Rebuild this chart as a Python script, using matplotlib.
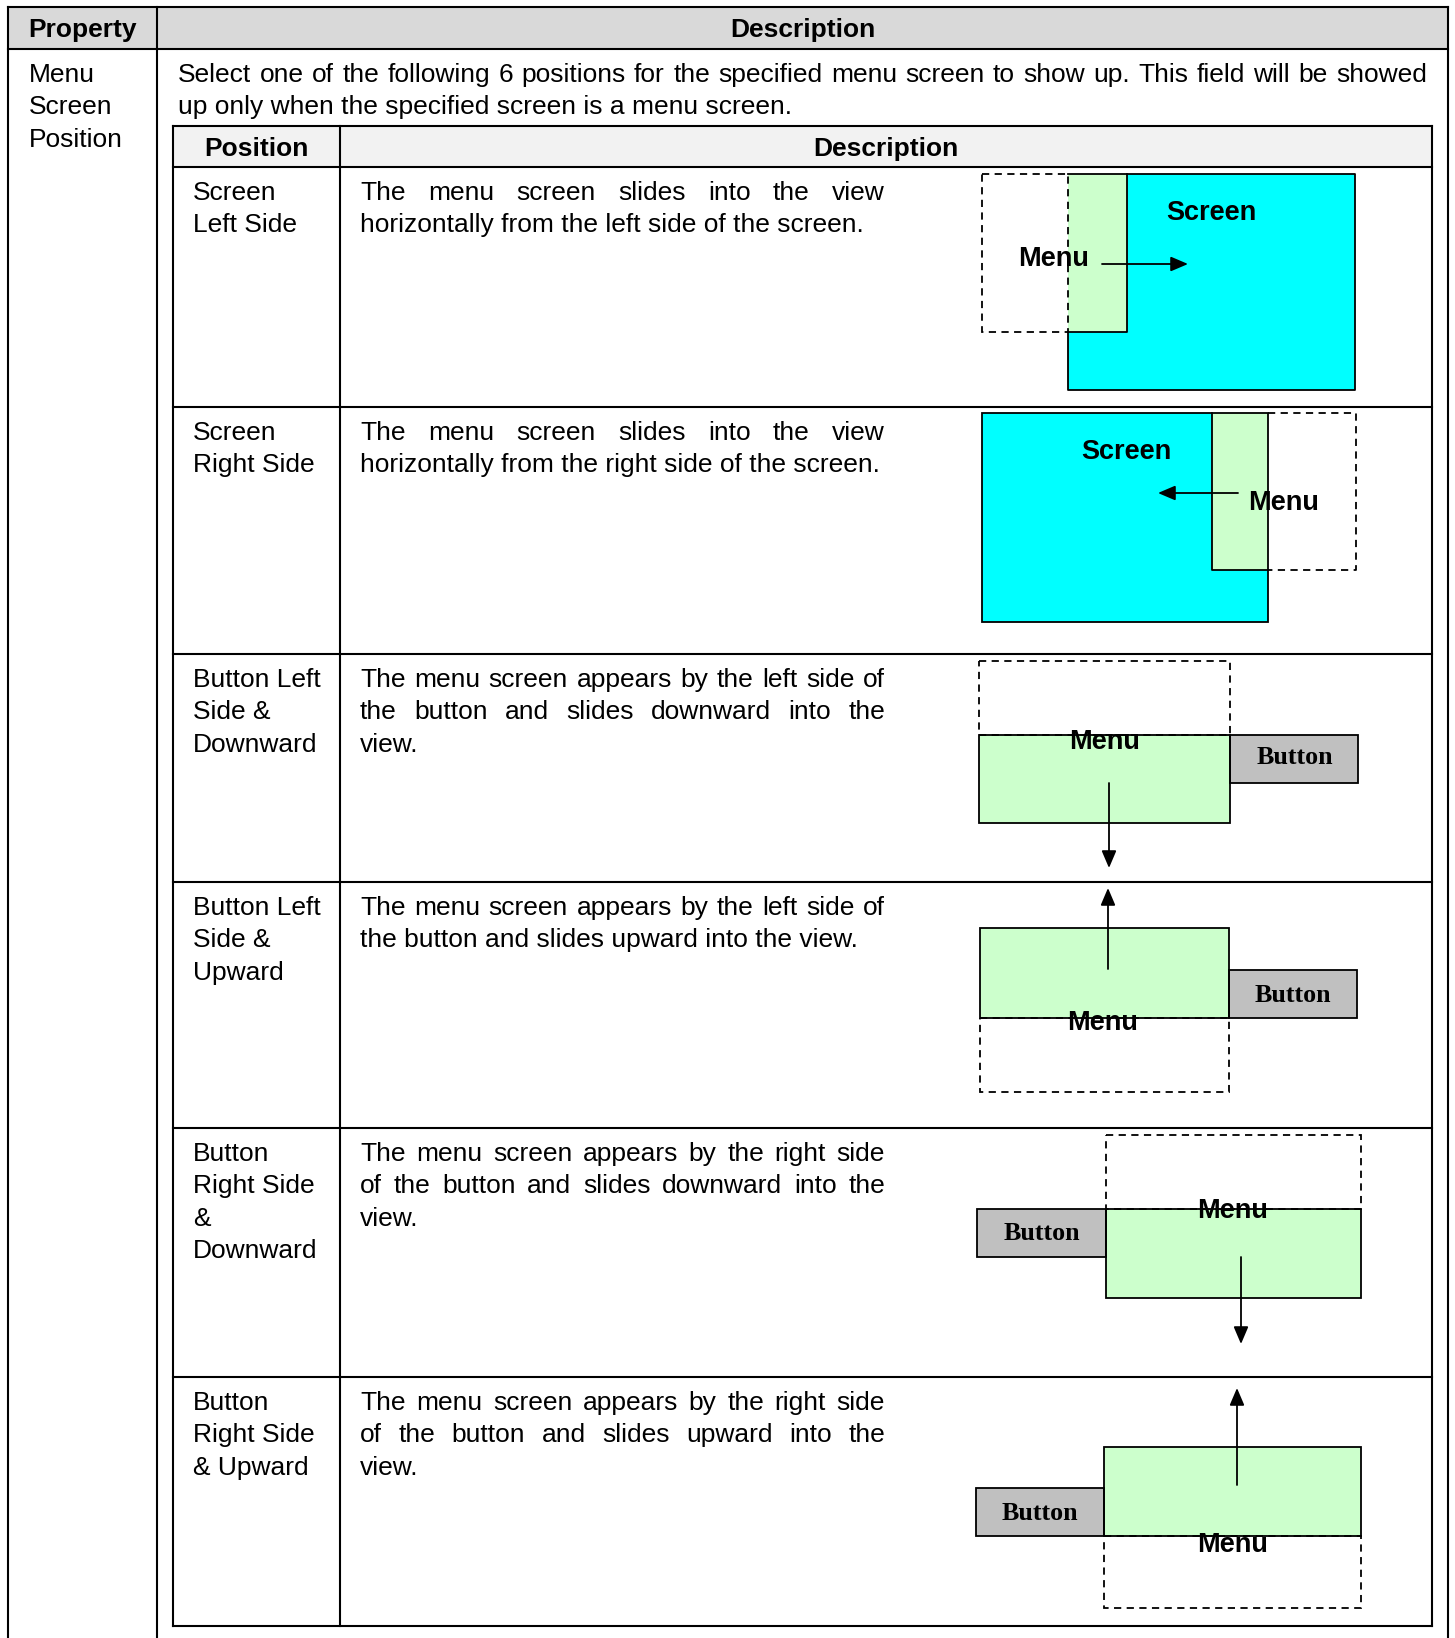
import matplotlib
matplotlib.use("Agg")
import matplotlib.pyplot as plt
from matplotlib.patches import Rectangle

W, H = 1455, 1638
DPI = 100

# ---- table content ----
header_cols = ["Property", "Description"]
property_lines = ["Menu", "Screen", "Position"]
intro_lines = ["Select one of the following 6 positions for the specified menu screen to show up. This field will be showed",
               "up only when the specified screen is a menu screen."]
sub_cols = ["Position", "Description"]
position_labels = [["Screen", "Left Side"],
                   ["Screen", "Right Side"],
                   ["Button Left", "Side &", "Downward"],
                   ["Button Left", "Side &", "Upward"],
                   ["Button", "Right Side", "&", "Downward"],
                   ["Button", "Right Side", "& Upward"]]
descriptions = [["The menu screen slides into the view", "horizontally from the left side of the screen."],
                ["The menu screen slides into the view", "horizontally from the right side of the screen."],
                ["The menu screen appears by the left side of", "the button and slides downward into the", "view."],
                ["The menu screen appears by the left side of", "the button and slides upward into the view."],
                ["The menu screen appears by the right side", "of the button and slides downward into the", "view."],
                ["The menu screen appears by the right side", "of the button and slides upward into the", "view."]]
diagram_labels = {"screen": "Screen", "menu": "Menu", "button": "Button"}

# ---- layout (pixels) ----
OX0, OX1, OCOL = 8, 1448, 157
OTOP, OHEAD = 7, 49
IX0, IX1, ICOL = 173, 1432, 340
ITOP, IHEAD = 126, 167
row_tops = [167, 407, 654, 882, 1128, 1377]
IBOT = 1626
LINE = 32.3
FS = 19
TLW = 1.5
DLW = 1.3

CYAN, GREEN, GREY = "#00FFFF", "#CCFFCC", "#C0C0C0"

plt.rcParams["font.family"] = ["Liberation Sans", "DejaVu Sans"]
fig = plt.figure(figsize=(W / DPI, H / DPI), dpi=DPI)
ax = fig.add_axes([0, 0, 1, 1])
ax.set_xlim(0, W)
ax.set_ylim(H, 0)
ax.axis("off")
renderer = fig.canvas.get_renderer()


def hline(x0, x1, y, lw=TLW, **kw):
    ax.plot([x0, x1], [y, y], color="black", lw=lw, solid_capstyle="projecting", **kw)


def vline(x, y0, y1, lw=TLW, **kw):
    ax.plot([x, x], [y0, y1], color="black", lw=lw, solid_capstyle="projecting", **kw)


def para(lines, x0, x1, base, justify=True, **kw):
    for i, line in enumerate(lines):
        y = base + i * LINE
        words = line.split()
        if justify and i < len(lines) - 1 and len(words) > 1:
            ts = [ax.text(0, y, w, fontsize=FS, va="baseline", ha="left", **kw) for w in words]
            ws = [t.get_window_extent(renderer).width for t in ts]
            gap = (x1 - x0 - sum(ws)) / (len(words) - 1)
            x = x0
            for t, w in zip(ts, ws):
                t.set_x(x)
                x += w + gap
        else:
            ax.text(x0, y, line, fontsize=FS, va="baseline", ha="left", **kw)


# ---- outer table ----
ax.add_patch(Rectangle((OX0, OTOP), OX1 - OX0, OHEAD - OTOP, color="#D9D9D9", lw=0))
hline(OX0, OX1, OTOP)
hline(OX0, OX1, OHEAD)
vline(OX0, OTOP, H + 5)
vline(OCOL, OTOP, H + 5)
vline(OX1, OTOP, H + 5)
ax.text((OX0 + OCOL) / 2, OTOP + 30, header_cols[0], fontsize=FS, weight="bold", ha="center", va="baseline")
ax.text((OCOL + OX1) / 2, OTOP + 30, header_cols[1], fontsize=FS, weight="bold", ha="center", va="baseline")
para(property_lines, 29, OCOL - 8, OHEAD + 33, justify=False)
para(intro_lines, 178, 1427, OHEAD + 33)

# ---- inner table ----
ax.add_patch(Rectangle((IX0, ITOP), IX1 - IX0, IHEAD - ITOP, color="#F2F2F2", lw=0))
hline(IX0, IX1, ITOP)
for y in row_tops + [IBOT]:
    hline(IX0, IX1, y)
vline(IX0, ITOP, IBOT)
vline(ICOL, ITOP, IBOT)
vline(IX1, ITOP, IBOT)
ax.text((IX0 + ICOL) / 2, ITOP + 30, sub_cols[0], fontsize=FS, weight="bold", ha="center", va="baseline")
ax.text((ICOL + IX1) / 2, ITOP + 30, sub_cols[1], fontsize=FS, weight="bold", ha="center", va="baseline")
for top, pos, desc in zip(row_tops, position_labels, descriptions):
    para(pos, 193, ICOL - 6, top + 33, justify=False)
    para(desc, 360, 885, top + 33)


# ---- diagrams ----
def box(x0, y0, x1, y1, fill=None, edge=True, dashed=False):
    if fill:
        ax.add_patch(Rectangle((x0, y0), x1 - x0, y1 - y0, facecolor=fill, edgecolor="none", zorder=2))
    if edge:
        ax.add_patch(Rectangle((x0, y0), x1 - x0, y1 - y0, facecolor="none", edgecolor="black",
                               lw=DLW, linestyle=(0, (4, 3)) if dashed else "-", zorder=3))


def poly(pts, dashed=False):
    ax.plot([p[0] for p in pts], [p[1] for p in pts], color="black", lw=DLW,
            linestyle=(0, (4, 3)) if dashed else "-", zorder=3)


def arrow(x0, y0, x1, y1):
    ax.annotate("", xy=(x1, y1), xytext=(x0, y0), zorder=4,
                arrowprops=dict(arrowstyle="-|>,head_length=0.75,head_width=0.32", lw=DLW, color="black",
                                shrinkA=0, shrinkB=0, mutation_scale=14))


def label(x, y, key):
    if key == "button":
        ax.text(x, y, diagram_labels[key], fontsize=18.7, weight="bold", family="Liberation Serif",
                ha="center", va="center", zorder=5)
    else:
        ax.text(x, y, diagram_labels[key], fontsize=19.5, weight="bold", ha="center", va="center", zorder=5)


# 1 screen left side
box(1068, 174, 1355, 390, fill=CYAN, edge=False)
box(1068, 174, 1127, 332, fill=GREEN, edge=False)
poly([(1068, 332), (1068, 390), (1355, 390), (1355, 174), (1068, 174)])
poly([(1127, 174), (1127, 332), (1068, 332)])
box(982, 174, 1068, 332, dashed=True)
label(1211, 213, "screen")
label(1054, 259, "menu")
arrow(1102, 264, 1188, 264)

# 2 screen right side
box(982, 413, 1268, 622, fill=CYAN)
box(1212, 413, 1268, 570, fill=GREEN, edge=False)
poly([(1212, 413), (1212, 570), (1268, 570)])
poly([(1268, 413), (1356, 413), (1356, 570), (1268, 570)], dashed=True)
label(1126, 452, "screen")
label(1284, 503, "menu")
arrow(1238, 493, 1158, 493)

# 3 button left side & downward
box(979, 661, 1230, 735, dashed=True)
box(979, 735, 1230, 823, fill=GREEN)
box(1230, 735, 1358, 783, fill=GREY)
label(1105, 742, "menu")
label(1295, 758, "button")
arrow(1109, 783, 1109, 868)

# 4 button left side & upward
box(980, 1018, 1229, 1092, dashed=True)
box(980, 928, 1229, 1018, fill=GREEN)
box(1229, 970, 1357, 1018, fill=GREY)
label(1103, 1023, "menu")
label(1293, 996, "button")
arrow(1108, 969, 1108, 888)

# 5 button right side & downward
box(1106, 1135, 1361, 1209, dashed=True)
box(1106, 1209, 1361, 1298, fill=GREEN)
box(977, 1209, 1106, 1257, fill=GREY)
label(1233, 1211, "menu")
label(1042, 1234, "button")
arrow(1241, 1257, 1241, 1344)

# 6 button right side & upward
box(1104, 1536, 1361, 1608, dashed=True)
box(1104, 1447, 1361, 1536, fill=GREEN)
box(976, 1488, 1104, 1536, fill=GREY)
label(1233, 1545, "menu")
label(1040, 1514, "button")
arrow(1237, 1485, 1237, 1388)

fig.savefig("out.png", dpi=DPI)
